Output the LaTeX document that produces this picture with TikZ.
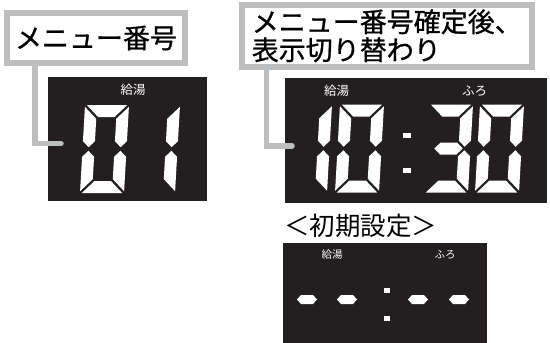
\documentclass[tikz,border=0pt]{standalone}
\usepackage{fontspec}
\newfontfamily\jp{Noto Sans CJK JP}
\newfontfamily\jpm{Noto Sans CJK JP}[FakeBold=0.8]
\usetikzlibrary{calc}
\definecolor{dispbg}{HTML}{231F20}
\definecolor{framegray}{HTML}{BCBEC0}
% seven-segment shapes in a 44 x 88 cell (u right, v up)
\def\segXa{(1.8,88) -- (42.2,88) -- (30.2,76) -- (13.8,76) -- cycle}
\def\segXb{(44,86.2) -- (44,51.8) -- (38,45.8) -- (32,51.8) -- (32,74.2) -- cycle}
\def\segXc{(44,1.8) -- (44,36.2) -- (38,42.2) -- (32,36.2) -- (32,13.8) -- cycle}
\def\segXd{(1.8,0) -- (42.2,0) -- (30.2,12) -- (13.8,12) -- cycle}
\def\segXe{(0,1.8) -- (0,36.2) -- (6,42.2) -- (12,36.2) -- (12,13.8) -- cycle}
\def\segXf{(0,86.2) -- (0,51.8) -- (6,45.8) -- (12,51.8) -- (12,74.2) -- cycle}
\def\segXg{(7.8,44) -- (13.8,50) -- (30.2,50) -- (36.2,44) -- (30.2,38) -- (13.8,38) -- cycle}
\newcommand\segfillB[1]{\fill[seg] #1;}
\newcommand\segfill[1]{\expandafter\segfillB\expandafter{#1}}
\newcommand\sevdigit[3]{%
  \begin{scope}[shift={(#1,#2)}, yscale=-1, xslant=-0.057]
    \foreach \s in {#3} {\expandafter\segfill\csname segX\s\endcsname}
  \end{scope}}
\newcommand\dashhex[2]{\fill[seg] (#1-10,#2) -- (#1-6,#2-4.5) -- (#1+6,#2-4.5) -- (#1+10,#2) -- (#1+6,#2+4.5) -- (#1-6,#2+4.5) -- cycle;}
\begin{document}
\begin{tikzpicture}[x=1pt,y=-1pt,
  labelbox/.style={draw=framegray, line width=6pt, fill=white, inner sep=0pt, outer sep=0pt, font=\jpm\fontsize{27}{28}\selectfont},
  conn/.style={draw=framegray, line width=5.5pt, line cap=round},
  seg/.style={fill=white},
  disp/.style={fill=dispbg},
  smalllbl/.style={text=white, font=\jp\fontsize{12.5}{13}\selectfont, inner sep=0pt},
  tinylbl/.style={text=white, font=\jp\fontsize{10.5}{11}\selectfont, inner sep=0pt}]
\useasboundingbox (0,0) rectangle (550,343);
% displays
\fill[disp] (48,77) rectangle (207,201);
\fill[disp] (285,78) rectangle (547,203);
\fill[disp] (283,243) rectangle (487,343);
% left display: 01
\node[smalllbl] (k1) at (133,90) {給湯};
\sevdigit{80}{193}{a,b,c,d,e,f}
\sevdigit{131}{193}{b,c}
% right display: 10:30
\node[smalllbl] (k2) at (336.5,91) {給湯};
\node[smalllbl] (f2) at (474.5,91) {ふろ};
\sevdigit{283}{192.5}{b,c}
\sevdigit{335}{192.5}{a,b,c,d,e,f}
\sevdigit{424}{192.5}{a,b,c,d,g}
\sevdigit{475}{192.5}{a,b,c,d,e,f}
\fill[seg] (403,133) rectangle (411,138);
\fill[seg] (403,168) rectangle (411,173);
% initial setting display
\node[font=\jp\fontsize{25.5}{26}\selectfont, anchor=base] (init) at (360.5,235) {＜初期設定＞};
\node[tinylbl] (k3) at (332,255) {給湯};
\node[tinylbl] (f3) at (445,255) {ふろ};
\dashhex{307}{299.5}
\dashhex{347}{299.5}
\dashhex{418}{299.5}
\dashhex{459}{299.5}
\fill[seg] (384,288) rectangle (390,293);
\fill[seg] (384,315.5) rectangle (390,320.5);
% label boxes
\node[labelbox, minimum width=178pt, minimum height=50pt] (lbl1) at (96,38) {メニュー番号};
\node[labelbox, minimum width=290.5pt, minimum height=62.5pt, align=left] (lbl2) at (386.75,35.75) {メニュー番号確定後、\\表示切り替わり};
% connectors
\coordinate (e1) at (61,143.5);
\coordinate (e2) at (292,146);
\draw[conn] ($(lbl1.south west)+(28,0)$) |- (e1);
\draw[conn] ($(lbl2.south west)+(25,0)$) |- (e2);
\end{tikzpicture}
\end{document}
